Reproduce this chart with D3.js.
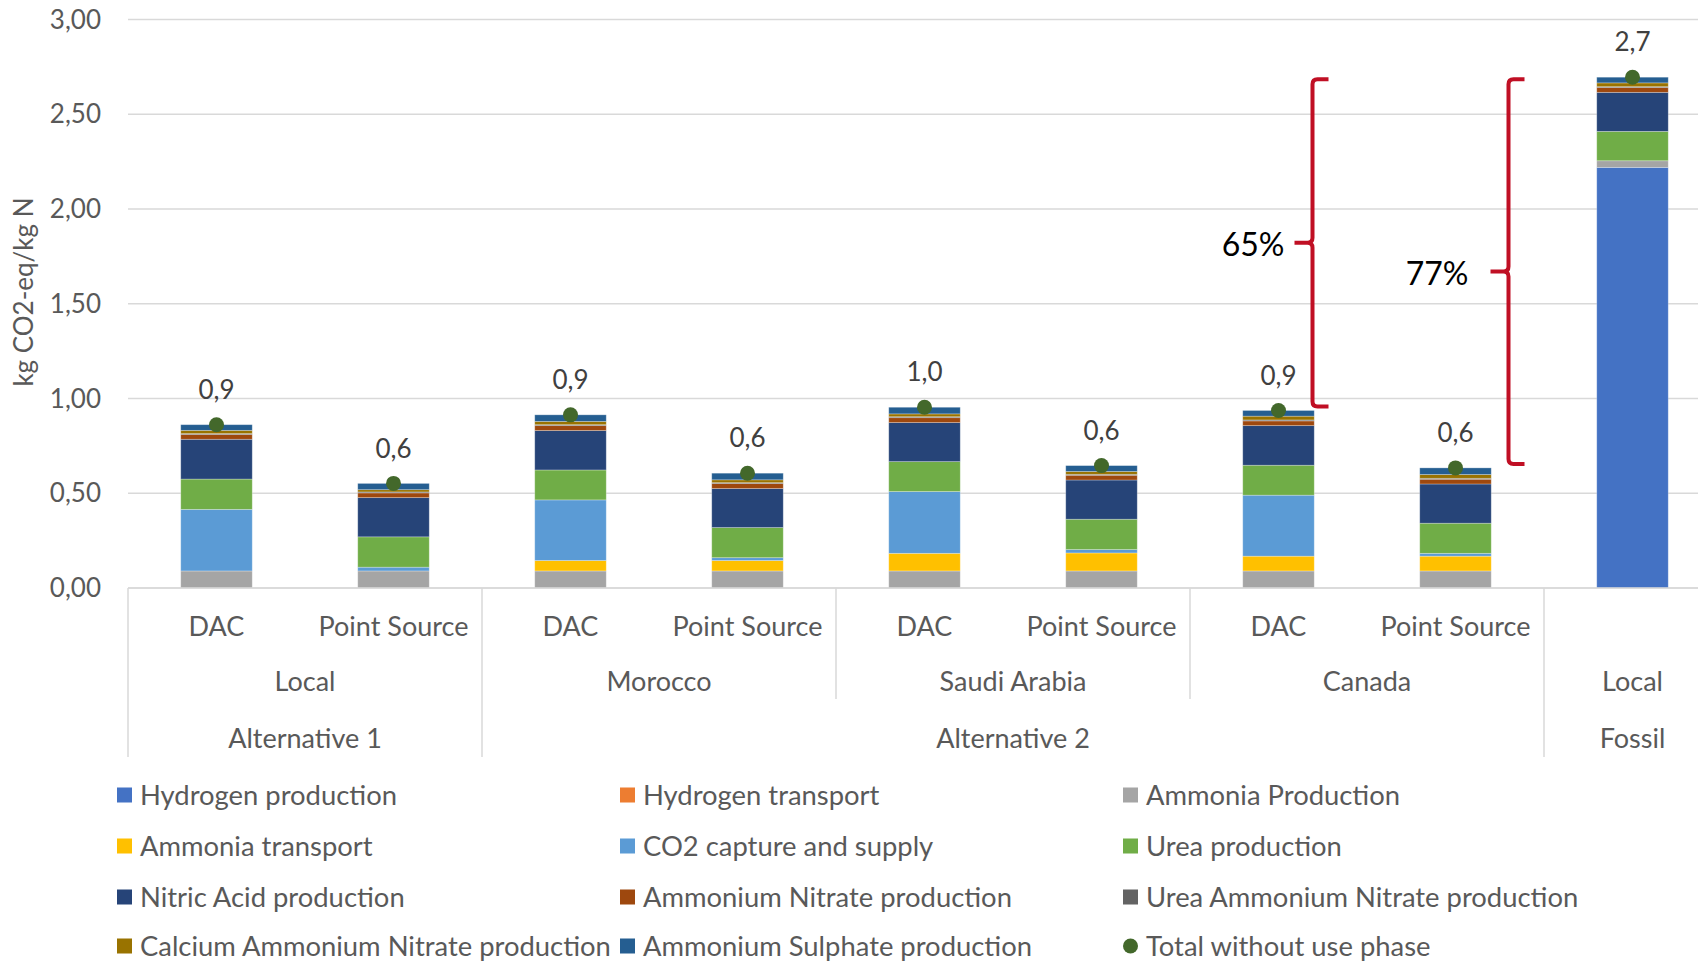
<!DOCTYPE html>
<html>
<head>
<meta charset="utf-8">
<script src="https://cdn.jsdelivr.net/npm/d3@7"></script>
<style>
body { margin: 0; background: #fff; }
text { font-family: Lato, "Open Sans", sans-serif; }
</style>
</head>
<body>
<div id="chart"></div>
<script>
// categories, three levels
var sources = ["DAC", "Point Source", "DAC", "Point Source", "DAC", "Point Source", "DAC", "Point Source", ""];
var origins = [{name: "Local", span: 2}, {name: "Morocco", span: 2}, {name: "Saudi Arabia", span: 2}, {name: "Canada", span: 2}, {name: "Local", span: 1}];
var scenarios = [{name: "Alternative 1", span: 2}, {name: "Alternative 2", span: 6}, {name: "Fossil", span: 1}];

// series values (kg CO2-eq / kg N)
var hydrogenProduction = [0, 0, 0, 0, 0, 0, 0, 0, 2.22];
var hydrogenTransport = [0, 0, 0, 0, 0, 0, 0, 0, 0];
var ammoniaProduction = [0.09, 0.09, 0.09, 0.09, 0.09, 0.09, 0.09, 0.09, 0.035];
var ammoniaTransport = [0, 0, 0.055, 0.055, 0.093, 0.095, 0.078, 0.078, 0];
var co2Capture = [0.325, 0.02, 0.32, 0.015, 0.326, 0.018, 0.322, 0.015, 0];
var ureaProduction = [0.16, 0.16, 0.158, 0.159, 0.158, 0.16, 0.158, 0.159, 0.155];
var nitricAcid = [0.21, 0.207, 0.208, 0.206, 0.206, 0.207, 0.209, 0.207, 0.206];
var ammoniumNitrate = [0.025, 0.025, 0.026, 0.026, 0.026, 0.025, 0.025, 0.025, 0.025];
var ureaAmmoniumNitrate = [0.005, 0.005, 0.005, 0.005, 0.005, 0.005, 0.005, 0.005, 0.005];
var calciumAmmoniumNitrate = [0.017, 0.012, 0.017, 0.015, 0.015, 0.015, 0.02, 0.02, 0.02];
var ammoniumSulphate = [0.03, 0.033, 0.035, 0.035, 0.035, 0.031, 0.03, 0.035, 0.03];

var seriesNames = ["Hydrogen production", "Hydrogen transport", "Ammonia Production", "Ammonia transport",
	"CO2 capture and supply", "Urea production", "Nitric Acid production", "Ammonium Nitrate production",
	"Urea Ammonium Nitrate production", "Calcium Ammonium Nitrate production", "Ammonium Sulphate production"];
var seriesValues = [hydrogenProduction, hydrogenTransport, ammoniaProduction, ammoniaTransport, co2Capture,
	ureaProduction, nitricAcid, ammoniumNitrate, ureaAmmoniumNitrate, calciumAmmoniumNitrate, ammoniumSulphate];
var seriesColors = ["#4472C4", "#ED7D31", "#A5A5A5", "#FFC000", "#5B9BD5", "#70AD47", "#264478",
	"#9E480E", "#636363", "#997300", "#255E91"];
var totalName = "Total without use phase";
var totalColor = "#43682B";

var yTicks = [0, 0.5, 1, 1.5, 2, 2.5, 3];
// reduction brackets: from fossil total down to a Canada bar
var brackets = [{label: "65%", to: 6, dx: 34, gap: 10}, {label: "77%", to: 7, dx: 53, gap: 22}];

var width = 1698, height = 964;
var left = 128, step = 177;

var svg = d3.select("#chart").append("svg")
	.attr("width", width)
	.attr("height", height)
	.style("display", "block");

var idx = d3.range(sources.length);
var x = d3.scaleBand()
	.domain(idx)
	.range([left, left + step * idx.length])
	.paddingInner(0.596)
	.paddingOuter(0.298);
var y = d3.scaleLinear().domain([0, 3]).range([588, 19.6]);

var rows = idx.map(function(i) {
	var r = {i: i};
	seriesNames.forEach(function(n, k) { r[n] = seriesValues[k][i]; });
	return r;
});
var totals = rows.map(function(r) { return d3.sum(seriesNames, function(n) { return r[n]; }); });

var fmt = function(v, d) { return v.toFixed(d).replace(".", ","); };

// gridlines
svg.append("g").selectAll("line")
	.data(yTicks).enter().append("line")
	.attr("x1", left).attr("x2", width)
	.attr("y1", function(d) { return y(d); })
	.attr("y2", function(d) { return y(d); })
	.attr("stroke", "#D9D9D9")
	.attr("stroke-width", 1.5);

svg.append("g").selectAll("text")
	.data(yTicks).enter().append("text")
	.attr("x", left - 27)
	.attr("y", function(d) { return y(d); })
	.attr("dy", "0.35em")
	.attr("text-anchor", "end")
	.attr("font-size", 26)
	.attr("fill", "#595959")
	.text(function(d) { return fmt(d, 2); });

svg.append("text")
	.attr("transform", "translate(24,292) rotate(-90)")
	.attr("dy", "0.35em")
	.attr("text-anchor", "middle")
	.attr("font-size", 26)
	.attr("fill", "#595959")
	.text("kg CO2-eq/kg N");

// stacked bars
var stack = d3.stack().keys(seriesNames)(rows);
svg.append("g").selectAll("g")
	.data(stack).enter().append("g")
	.attr("fill", function(d, k) { return seriesColors[k]; })
	.selectAll("rect")
	.data(function(d) { return d; }).enter().append("rect")
	.filter(function(d) { return d[1] - d[0] > 0; })
	.attr("x", function(d) { return x(d.data.i); })
	.attr("width", x.bandwidth())
	.attr("y", function(d) { return y(d[1]); })
	.attr("height", function(d) { return y(d[0]) - y(d[1]); })
	.attr("stroke", "#fff")
	.attr("stroke-opacity", 0.35)
	.attr("stroke-width", 0.8);

// totals
svg.append("g").selectAll("circle")
	.data(totals).enter().append("circle")
	.attr("cx", function(d, i) { return x(i) + x.bandwidth() / 2; })
	.attr("cy", function(d) { return y(d); })
	.attr("r", 7.5)
	.attr("fill", totalColor);

svg.append("g").selectAll("text")
	.data(totals).enter().append("text")
	.attr("x", function(d, i) { return x(i) + x.bandwidth() / 2; })
	.attr("y", function(d) { return y(d) - 35; })
	.attr("dy", "0.35em")
	.attr("text-anchor", "middle")
	.attr("font-size", 26)
	.attr("fill", "#404040")
	.text(function(d) { return fmt(d, 1); });

// category axis (three levels)
var axisY = y(0);
var axisG = svg.append("g");
axisG.append("line")
	.attr("x1", left).attr("x2", width)
	.attr("y1", axisY).attr("y2", axisY)
	.attr("stroke", "#D9D9D9").attr("stroke-width", 1.5);

axisG.selectAll("text.src")
	.data(sources).enter().append("text")
	.attr("x", function(d, i) { return x(i) + x.bandwidth() / 2; })
	.attr("y", 627)
	.attr("dy", "0.35em")
	.attr("text-anchor", "middle")
	.attr("font-size", 27)
	.attr("fill", "#595959")
	.text(function(d) { return d; });

function spans(list) {
	var start = 0;
	return list.map(function(g) {
		var s = {name: g.name, a: start, b: start + g.span};
		start += g.span;
		return s;
	});
}
var originSpans = spans(origins), scenarioSpans = spans(scenarios);
var edge = function(k) { return left + step * k; };

axisG.selectAll("text.org")
	.data(originSpans).enter().append("text")
	.attr("x", function(d) { return (edge(d.a) + edge(d.b)) / 2; })
	.attr("y", 682)
	.attr("dy", "0.35em")
	.attr("text-anchor", "middle")
	.attr("font-size", 27)
	.attr("fill", "#595959")
	.text(function(d) { return d.name; });

axisG.selectAll("text.scn")
	.data(scenarioSpans).enter().append("text")
	.attr("x", function(d) { return (edge(d.a) + edge(d.b)) / 2; })
	.attr("y", 739)
	.attr("dy", "0.35em")
	.attr("text-anchor", "middle")
	.attr("font-size", 27)
	.attr("fill", "#595959")
	.text(function(d) { return d.name; });

var scnEdges = [0].concat(scenarioSpans.map(function(d) { return d.b; }));
var orgEdges = originSpans.map(function(d) { return d.b; }).filter(function(b) { return scnEdges.indexOf(b) < 0; });
axisG.selectAll("line.scn")
	.data(scnEdges).enter().append("line")
	.attr("x1", edge).attr("x2", edge)
	.attr("y1", axisY).attr("y2", 757)
	.attr("stroke", "#D9D9D9").attr("stroke-width", 1.5);
axisG.selectAll("line.org")
	.data(orgEdges).enter().append("line")
	.attr("x1", edge).attr("x2", edge)
	.attr("y1", axisY).attr("y2", 699)
	.attr("stroke", "#D9D9D9").attr("stroke-width", 1.5);

// brackets
var fossil = totals.length - 1;
var bg = svg.append("g");
brackets.forEach(function(b) {
	var bx = x(b.to) + x.bandwidth() / 2 + b.dx;
	var y0 = y(totals[fossil]) + 2, y1 = y(totals[b.to]) - 4, ym = (y0 + y1) / 2;
	var r = 5;
	var p = "M" + (bx + 16) + "," + y0 + " L" + (bx + r) + "," + y0 +
		" Q" + bx + "," + y0 + " " + bx + "," + (y0 + r) +
		" L" + bx + "," + (ym - r) + " Q" + bx + "," + ym + " " + (bx - r) + "," + ym +
		" L" + (bx - 18) + "," + ym +
		" M" + (bx - r) + "," + ym + " Q" + bx + "," + ym + " " + bx + "," + (ym + r) +
		" L" + bx + "," + (y1 - r) + " Q" + bx + "," + y1 + " " + (bx + r) + "," + y1 +
		" L" + (bx + 16) + "," + y1;
	bg.append("path")
		.attr("d", p)
		.attr("fill", "none")
		.attr("stroke", "#C00F24")
		.attr("stroke-width", 4);
	bg.append("text")
		.attr("x", bx - 18 - b.gap)
		.attr("y", ym + 2)
		.attr("dy", "0.35em")
		.attr("text-anchor", "end")
		.attr("font-size", 32)
		.attr("fill", "#000")
		.text(b.label);
});

// legend
var legendItems = seriesNames.map(function(n, k) { return {name: n, color: seriesColors[k], dot: false}; });
legendItems.push({name: totalName, color: totalColor, dot: true});
var colX = [117, 620, 1123], rowY = [795, 846, 897, 946];
var lg = svg.append("g").selectAll("g")
	.data(legendItems).enter().append("g")
	.attr("transform", function(d, k) { return "translate(" + colX[k % 3] + "," + rowY[Math.floor(k / 3)] + ")"; });
lg.filter(function(d) { return !d.dot; }).append("rect")
	.attr("x", 0).attr("y", -7.5).attr("width", 15).attr("height", 15)
	.attr("fill", function(d) { return d.color; });
lg.filter(function(d) { return d.dot; }).append("circle")
	.attr("cx", 7.5).attr("cy", 0).attr("r", 7.5)
	.attr("fill", function(d) { return d.color; });
lg.append("text")
	.attr("x", 23)
	.attr("dy", "0.35em")
	.attr("font-size", 27.4)
	.attr("fill", "#595959")
	.text(function(d) { return d.name; });
</script>
</body>
</html>
